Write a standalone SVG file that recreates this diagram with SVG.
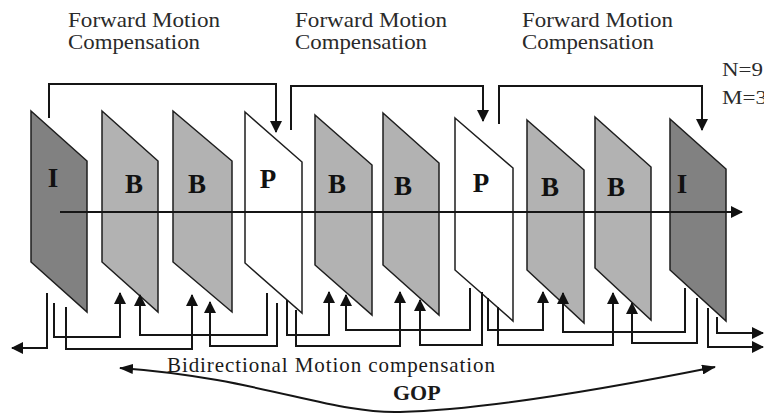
<svg xmlns="http://www.w3.org/2000/svg" width="764" height="414" viewBox="0 0 764 414">
  <style>
    .title { font-family: "Liberation Serif", "Times New Roman", serif; font-size: 21px; fill: #2a2a2a; }
    .param { font-family: "Liberation Serif", "Times New Roman", serif; font-size: 18px; fill: #2a2a2a; }
    .lbl { font-family: "Liberation Serif", "Times New Roman", serif; font-size: 27px; font-weight: bold; fill: #111; text-anchor: middle; }
    .cap { font-family: "Liberation Serif", "Times New Roman", serif; font-size: 21px; fill: #1a1a1a; }
    .gop { font-family: "Liberation Serif", "Times New Roman", serif; font-size: 22px; font-weight: bold; fill: #1a1a1a; }
    .frame { stroke: #1e1e1e; stroke-width: 1.5; stroke-linejoin: miter; }
    .iframe { fill: #818181; }
    .bframe { fill: #b2b2b2; }
    .pframe { fill: #ffffff; }
    .wire { fill: none; stroke: #151515; stroke-width: 2; }
  </style>
  <defs>
    <marker id="ah" viewBox="0 0 12 12" refX="11" refY="6" markerWidth="12" markerHeight="12" markerUnits="userSpaceOnUse" orient="auto">
      <path d="M0,0 L12,6 L0,12 z" fill="#111"/>
    </marker>
    <marker id="ahc" viewBox="0 0 14 10" refX="13" refY="5" markerWidth="14" markerHeight="10" markerUnits="userSpaceOnUse" orient="auto-start-reverse">
      <path d="M0,0 L14,5 L0,10 z" fill="#111"/>
    </marker>
  </defs>

  <rect width="764" height="414" fill="#ffffff"/>

  <!-- captions above -->
  <g id="fmc1">
    <text class="title" x="68" y="27" textLength="152" lengthAdjust="spacingAndGlyphs">Forward Motion</text>
    <text class="title" x="68" y="49" textLength="132" lengthAdjust="spacingAndGlyphs">Compensation</text>
  </g>
  <g id="fmc2">
    <text class="title" x="295" y="27" textLength="152" lengthAdjust="spacingAndGlyphs">Forward Motion</text>
    <text class="title" x="295" y="49" textLength="132" lengthAdjust="spacingAndGlyphs">Compensation</text>
  </g>
  <g id="fmc3">
    <text class="title" x="522" y="27" textLength="151" lengthAdjust="spacingAndGlyphs">Forward Motion</text>
    <text class="title" x="522" y="49" textLength="132" lengthAdjust="spacingAndGlyphs">Compensation</text>
  </g>
  <g id="params">
    <text class="param" x="722" y="76" textLength="41" lengthAdjust="spacingAndGlyphs">N=9</text>
    <text class="param" x="722" y="104" textLength="45" lengthAdjust="spacingAndGlyphs">M=3</text>
  </g>

  <!-- frames: parallelograms with vertical sides -->
  <g id="f1">
    <polygon class="frame iframe" points="31,111 87,161 87,312 31,262"/>
    <text class="lbl" x="53" y="187">I</text>
  </g>
  <g id="f2">
    <polygon class="frame bframe" points="102,111 158,161 158,312 102,262"/>
    <text class="lbl" x="134" y="193">B</text>
  </g>
  <g id="f3">
    <polygon class="frame bframe" points="173,111 232,161 232,312 173,262"/>
    <text class="lbl" x="197" y="193">B</text>
  </g>
  <g id="f4">
    <polygon class="frame pframe" points="245,112 302,162 302,313 245,263"/>
    <text class="lbl" x="268" y="188">P</text>
  </g>
  <g id="f5">
    <polygon class="frame bframe" points="315,115 372,165 372,315 315,265"/>
    <text class="lbl" x="337" y="193">B</text>
  </g>
  <g id="f6">
    <polygon class="frame bframe" points="383,113 439,163 439,315 383,265"/>
    <text class="lbl" x="403" y="195">B</text>
  </g>
  <g id="f7">
    <polygon class="frame pframe" points="455,118 513,168 513,321 455,270"/>
    <text class="lbl" x="481" y="192">P</text>
  </g>
  <g id="f8">
    <polygon class="frame bframe" points="527,120 584,170 584,323 527,270"/>
    <text class="lbl" x="550" y="196">B</text>
  </g>
  <g id="f9">
    <polygon class="frame bframe" points="595,117 651,167 651,320 595,268"/>
    <text class="lbl" x="616" y="196">B</text>
  </g>
  <g id="f10">
    <polygon class="frame iframe" points="670,119 726,169 726,321 670,270"/>
    <text class="lbl" x="682" y="193">I</text>
  </g>

  <!-- connectors -->
  <g id="connectors">
    <!-- time axis -->
    <path class="wire" d="M60,212 H742" marker-end="url(#ah)"/>
    <!-- forward prediction brackets -->
    <path class="wire" d="M49,118 V84 H276 V132" marker-end="url(#ah)"/>
    <path class="wire" d="M291,130 V86 H483 V121" marker-end="url(#ah)"/>
    <path class="wire" d="M499,124 V86 H702 V130" marker-end="url(#ah)"/>
    <!-- bidirectional references below the frames -->
    <path class="wire" d="M47,293 V348 H12" marker-end="url(#ah)"/>
    <path class="wire" d="M54,303 V337 H120 V293" marker-end="url(#ah)"/>
    <path class="wire" d="M66,307 V349 H192 V295" marker-end="url(#ah)"/>
    <path class="wire" d="M267,293 V335 H140 V295" marker-end="url(#ah)"/>
    <path class="wire" d="M277,303 V346 H210 V302" marker-end="url(#ah)"/>
    <path class="wire" d="M287,300 V335 H329 V292" marker-end="url(#ah)"/>
    <path class="wire" d="M296,310 V346 H400 V292" marker-end="url(#ah)"/>
    <path class="wire" d="M470,288 V330 H346 V295" marker-end="url(#ah)"/>
    <path class="wire" d="M482,292 V345 H420 V300" marker-end="url(#ah)"/>
    <path class="wire" d="M488,298 V330 H543 V292" marker-end="url(#ah)"/>
    <path class="wire" d="M498,307 V345 H613 V293" marker-end="url(#ah)"/>
    <path class="wire" d="M685,288 V332 H563 V293" marker-end="url(#ah)"/>
    <path class="wire" d="M697,298 V343 H632 V303" marker-end="url(#ah)"/>
    <path class="wire" d="M708,308 V347 H763" marker-end="url(#ah)"/>
    <path class="wire" d="M717,317 V333 H763" marker-end="url(#ah)"/>
    <!-- GOP span -->
    <path class="wire" d="M120,368 C260,378 330,414 400,412 C480,410 600,390 715,367" marker-start="url(#ahc)" marker-end="url(#ahc)"/>
  </g>

  <g id="gop-labels">
    <text class="cap" x="167" y="372" textLength="328" lengthAdjust="spacing">Bidirectional Motion compensation</text>
    <text class="gop" x="393" y="400">GOP</text>
  </g>
</svg>
